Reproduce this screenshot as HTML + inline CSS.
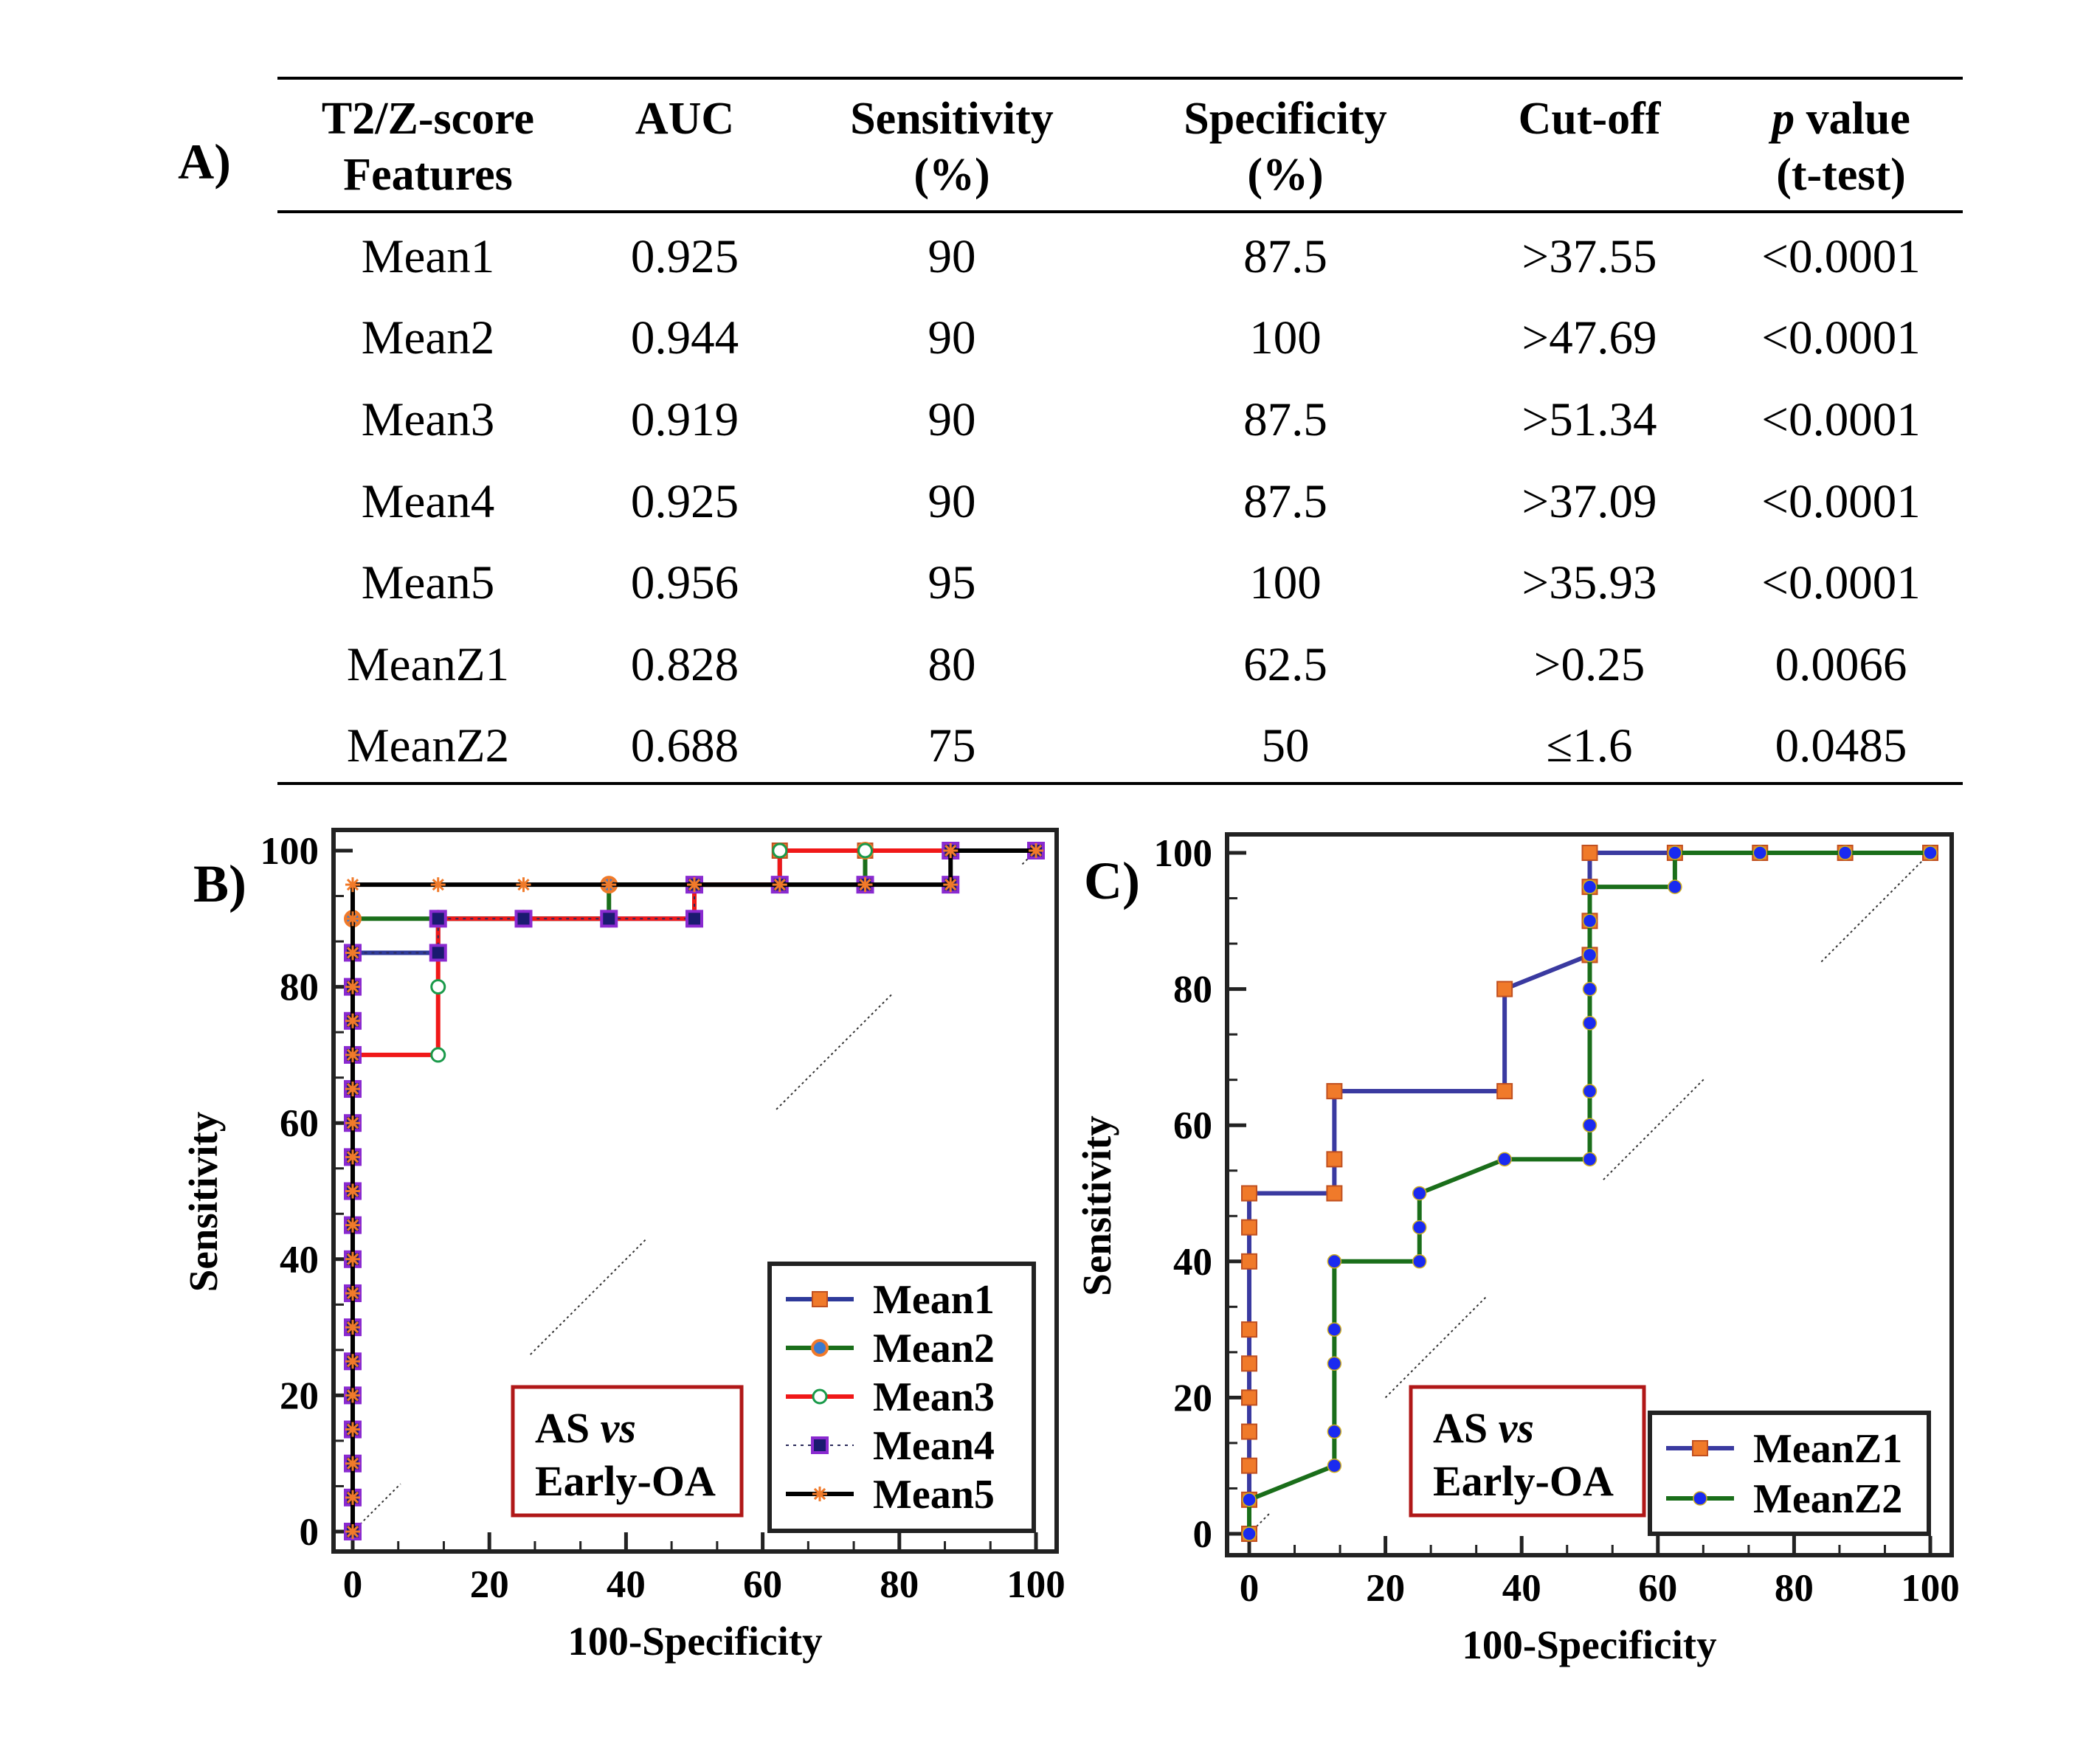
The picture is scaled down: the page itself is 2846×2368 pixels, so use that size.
<!DOCTYPE html>
<html><head><meta charset="utf-8"><style>
html,body{margin:0;padding:0;background:#fff;}
svg{display:block;font-family:"Liberation Serif",serif;}
</style></head><body>
<svg id="fig" xmlns="http://www.w3.org/2000/svg" width="2846" height="2368" viewBox="0 0 2846 2368">
<g id="table"></g>
<g id="panelB"></g>
<g id="panelC"></g>
</svg>
<script>
// ---- table data ----
const tableHead1 = ["T2/Z-score","AUC","Sensitivity","Specificity","Cut-off","value"];
const tableHead2 = ["Features","","(%)","(%)","","(t-test)"];
const features = ["Mean1","Mean2","Mean3","Mean4","Mean5","MeanZ1","MeanZ2"];
const aucVals = ["0.925","0.944","0.919","0.925","0.956","0.828","0.688"];
const sensVals = ["90","90","90","90","95","80","75"];
const specVals = ["87.5","100","87.5","87.5","100","62.5","50"];
const cutVals = [">37.55",">47.69",">51.34",">37.09",">35.93",">0.25","\u22641.6"];
const pVals = ["<0.0001","<0.0001","<0.0001","<0.0001","<0.0001","0.0066","0.0485"];

// ---- panel B data ----
const bMean1X = [0,0,0,0,0,0,0,0,0,0,0,0,0,0,0,0,0,0,12.5,12.5,25,37.5,50,50,62.5,62.5,75,87.5,100];
const bMean1Y = [0,5,10,15,20,25,30,35,40,45,50,55,60,65,70,75,80,85,85,90,90,90,90,95,95,100,100,100,100];
const bMean2X = [0,0,0,0,0,0,0,0,0,0,0,0,0,0,0,0,0,0,0,12.5,25,37.5,37.5,50,62.5,75,75,87.5,100];
const bMean2Y = [0,5,10,15,20,25,30,35,40,45,50,55,60,65,70,75,80,85,90,90,90,90,95,95,95,95,100,100,100];
const bMean3X = [0,0,0,0,0,0,0,0,0,0,0,0,0,0,0,12.5,12.5,12.5,25,37.5,50,50,62.5,62.5,75,87.5,100];
const bMean3Y = [0,5,10,15,20,25,30,35,40,45,50,55,60,65,70,70,80,90,90,90,90,95,95,100,100,100,100];
const bMean4X = [0,0,0,0,0,0,0,0,0,0,0,0,0,0,0,0,0,0,12.5,12.5,25,37.5,50,50,62.5,75,87.5,87.5,100];
const bMean4Y = [0,5,10,15,20,25,30,35,40,45,50,55,60,65,70,75,80,85,85,90,90,90,90,95,95,95,95,100,100];
const bMean5X = [0,0,0,0,0,0,0,0,0,0,0,0,0,0,0,0,0,0,0,0,12.5,25,37.5,50,62.5,75,87.5,87.5,100];
const bMean5Y = [0,5,10,15,20,25,30,35,40,45,50,55,60,65,70,75,80,85,90,95,95,95,95,95,95,95,95,100,100];

// ---- panel C data ----
const cZ1X = [0,0,0,0,0,0,0,0,0,0,12.5,12.5,12.5,37.5,37.5,50,50,50,50,62.5,75,87.5,100];
const cZ1Y = [0,5,10,15,20,25,30,40,45,50,50,55,65,65,80,85,90,95,100,100,100,100,100];
const cZ2X = [0,0,12.5,12.5,12.5,12.5,12.5,25,25,25,37.5,50,50,50,50,50,50,50,50,50,62.5,62.5,75,87.5,100];
const cZ2Y = [0,5,10,15,25,30,40,40,45,50,55,55,60,65,75,80,85,90,95,95,95,100,100,100,100];

const tickVals = [0,20,40,60,80,100];
const tickLabels = ["0","20","40","60","80","100"];

const NS = "http://www.w3.org/2000/svg";
function mk(tag, attrs, parent, text){
  const e = document.createElementNS(NS, tag);
  for (const k in attrs) e.setAttribute(k, attrs[k]);
  if (text !== undefined) e.textContent = text;
  parent.appendChild(e);
  return e;
}

// ---- table ----
const T = document.getElementById('table');
const colX = [580,928,1290,1742,2154,2495];
let ln;
ln = mk('line',{x1:376,y1:106,x2:2660,y2:106,stroke:'#000','stroke-width':4},T);
 
ln = mk('line',{x1:376,y1:287,x2:2660,y2:287,stroke:'#000','stroke-width':4},T);
 
ln = mk('line',{x1:376,y1:1062,x2:2660,y2:1062,stroke:'#000','stroke-width':4},T);
 
let lbA = mk('text',{x:277,y:242,'font-size':68,'font-weight':'bold','text-anchor':'middle'},T,'A)');
 
tableHead1.forEach((h,i)=>{
  const t = mk('text',{x:colX[i],y:181,'font-size':62,'font-weight':'bold','text-anchor':'middle'},T);
  if (i===5){ mk('tspan',{'font-style':'italic'},t,'p'); t.appendChild(document.createTextNode(' '+h)); }
  else t.textContent = h;
   
  if (tableHead2[i]) {
    const t2 = mk('text',{x:colX[i],y:257,'font-size':62,'font-weight':'bold','text-anchor':'middle'},T,tableHead2[i]);
     
  }
});
const rowY = [347,457,568,679,789,900,1010];
features.forEach((f,r)=>{
  [f,aucVals[r],sensVals[r],specVals[r],cutVals[r],pVals[r]].forEach((v,c)=>{
    const t = mk('text',{x:colX[c],y:rowY[r]+22,'font-size':65,'text-anchor':'middle'},T,v);
     
  });
});

// ---- chart builder ----
function chart(G, cfg){
  const sx = v => cfg.x0 + (cfg.x100-cfg.x0)*v/100;
  const sy = v => cfg.y0 - (cfg.y0-cfg.y100)*v/100;
  cfg.diag.forEach(d=>{
    const l = mk('line',{x1:sx(d[0]),y1:sy(d[0]),x2:sx(d[1]),y2:sy(d[1]),stroke:'#333','stroke-width':2,'stroke-dasharray':'3 4'},G);
     
  });
  const fr = mk('rect',{x:cfg.bx,y:cfg.by,width:cfg.bw,height:cfg.bh,fill:'none',stroke:'#222','stroke-width':6},G);
   
  for (let i=0;i<=15;i++){
    const v = i*20/3; const major = i%3===0;
    const len = major?26:14;
    const tx = mk('line',{x1:sx(v),y1:cfg.by+cfg.bh,x2:sx(v),y2:cfg.by+cfg.bh-len,stroke:'#222','stroke-width':major?5:3},G);
     
    const ty = mk('line',{x1:cfg.bx,y1:sy(v),x2:cfg.bx+len,y2:sy(v),stroke:'#222','stroke-width':major?5:3},G);
     
  }
  tickVals.forEach((v,i)=>{
    const a = mk('text',{x:sx(v),y:cfg.by+cfg.bh+62,'font-size':53,'font-weight':'bold','text-anchor':'middle'},G,tickLabels[i]);
     
    const b = mk('text',{x:cfg.bx-20,y:sy(v)+18,'font-size':53,'font-weight':'bold','text-anchor':'end'},G,tickLabels[i]);
     
  });
  const xt = mk('text',{x:cfg.bx+cfg.bw/2,y:cfg.by+cfg.bh+140,'font-size':55,'font-weight':'bold','text-anchor':'middle'},G,'100-Specificity');
   
  const yc = cfg.by+cfg.bh/2+15;
  const yx = cfg.bx-158;
  const yt = mk('text',{x:yx,y:yc,'font-size':55,'font-weight':'bold','text-anchor':'middle',transform:`rotate(-90 ${yx} ${yc})`},G,'Sensitivity');
   
  const pl = mk('text',{x:cfg.lblX,y:cfg.lblY,'font-size':72,'font-weight':'bold','text-anchor':'middle'},G,cfg.label);
   
  cfg.series.forEach(s=>{
    const pts = s.x.map((v,i)=>sx(v)+','+sy(s.y[i])).join(' ');
    const p = mk('polyline',{points:pts,fill:'none',stroke:s.color,'stroke-width':s.w,'stroke-dasharray':s.dash||'none','stroke-linejoin':'miter'},G);
     
    s.x.forEach((v,i)=>{
      const m = marker(G, s.marker, sx(v), sy(s.y[i]));
       
    });
  });
  const ab = mk('rect',{x:cfg.ann[0],y:cfg.ann[1],width:cfg.ann[2],height:cfg.ann[3],fill:'#fff',stroke:'#b01818','stroke-width':5},G);
   
  const at1 = mk('text',{x:cfg.ann[0]+30,y:cfg.ann[1]+75,'font-size':58,'font-weight':'bold'},G,'AS ');
  mk('tspan',{'font-style':'italic'},at1,'vs');
   
  const at2 = mk('text',{x:cfg.ann[0]+30,y:cfg.ann[1]+147,'font-size':58,'font-weight':'bold'},G,'Early-OA');
   
  const lg = mk('rect',{x:cfg.leg[0],y:cfg.leg[1],width:cfg.leg[2],height:cfg.leg[3],fill:'#fff',stroke:'#222','stroke-width':6},G);
   
  cfg.series.forEach((s,i)=>{
    const yy = cfg.leg[1]+cfg.legTop+i*cfg.legStep;
    const lx = cfg.leg[0]+22;
    const l = mk('line',{x1:lx,y1:yy,x2:lx+92,y2:yy,stroke:s.color,'stroke-width':s.w,'stroke-dasharray':s.dash||'none'},G);
     
    const m = marker(G, s.marker, lx+46, yy);
     
    const t = mk('text',{x:lx+118,y:yy+19,'font-size':56,'font-weight':'bold'},G,s.label);
     
  });
}
function marker(G, type, x, y){
  if (type==='sq') return mk('rect',{x:x-10,y:y-10,width:20,height:20,fill:'#f07a2a',stroke:'#c05020','stroke-width':2},G);
  if (type==='sq4') return mk('rect',{x:x-10,y:y-10,width:20,height:20,fill:'#1a1a70',stroke:'#8a2ad0','stroke-width':4},G);
  if (type==='circ2') return mk('circle',{cx:x,cy:y,r:10,fill:'#3a7ad0',stroke:'#f07a2a','stroke-width':4},G);
  if (type==='open') return mk('circle',{cx:x,cy:y,r:9,fill:'#fff',stroke:'#1a9a4a','stroke-width':3},G);
  if (type==='dot') return mk('circle',{cx:x,cy:y,r:9,fill:'#1a2af0',stroke:'#d0b020','stroke-width':1.5},G);
  if (type==='star'){
    const g = mk('g',{stroke:'#f07a2a','stroke-width':3},G);
    for (let a=0;a<4;a++){ const t=a*Math.PI/4; mk('line',{x1:x-10*Math.cos(t),y1:y-10*Math.sin(t),x2:x+10*Math.cos(t),y2:y+10*Math.sin(t)},g); }
    return g;
  }
}

chart(document.getElementById('panelB'), {
  x0:478, x100:1404, y0:2076, y100:1153,
  bx:452, by:1125, bw:980, bh:978,
  label:'B)', lblX:298, lblY:1222,
  diag:[[0,7],[26,43],[62,79],[98,100]],
  ann:[695,1880,310,174], leg:[1043,1713,358,362], legTop:48, legStep:66,
  series:[
    {name:'mean1',label:'Mean1',x:bMean1X,y:bMean1Y,color:'#2e3a9a',w:6,marker:'sq'},
    {name:'mean2',label:'Mean2',x:bMean2X,y:bMean2Y,color:'#1a6e1a',w:6,marker:'circ2'},
    {name:'mean3',label:'Mean3',x:bMean3X,y:bMean3Y,color:'#f01818',w:6,marker:'open'},
    {name:'mean4',label:'Mean4',x:bMean4X,y:bMean4Y,color:'#2a2a5a',w:2,dash:'4 6',marker:'sq4'},
    {name:'mean5',label:'Mean5',x:bMean5X,y:bMean5Y,color:'#000',w:6,marker:'star'}
  ]
});
chart(document.getElementById('panelC'), {
  x0:1693, x100:2616, y0:2079, y100:1156,
  bx:1663, by:1131, bw:982, bh:977,
  label:'C)', lblX:1507, lblY:1218,
  diag:[[0,3],[20,35],[52,67],[84,99]],
  ann:[1912,1880,316,174], leg:[2236,1915,378,164], legTop:48, legStep:68,
  series:[
    {name:'meanz1',label:'MeanZ1',x:cZ1X,y:cZ1Y,color:'#3a3aa0',w:6,marker:'sq'},
    {name:'meanz2',label:'MeanZ2',x:cZ2X,y:cZ2Y,color:'#1a6e1a',w:6,marker:'dot'}
  ]
});
</script>
</body></html>
